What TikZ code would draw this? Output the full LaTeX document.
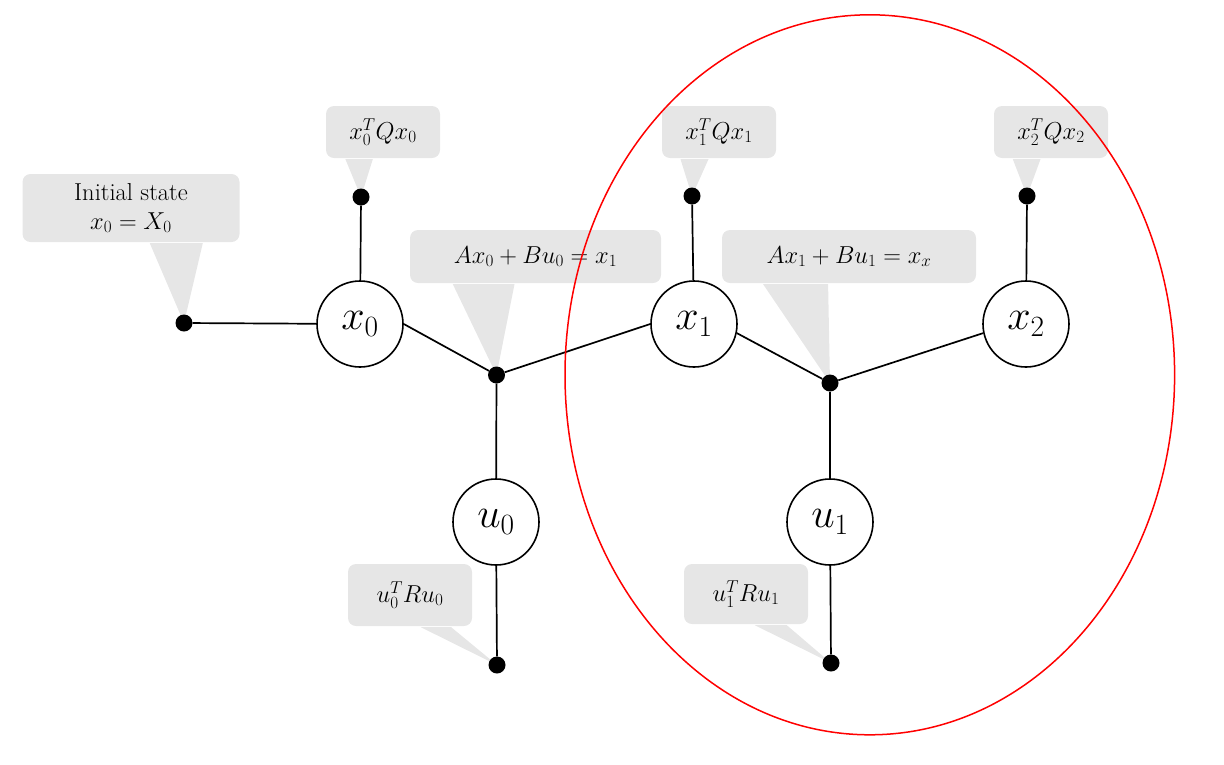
\documentclass[tikz,border=0pt]{standalone}
\usepackage{fix-cm}
\usepackage{amsmath}
\usepackage{tikz}
\usetikzlibrary{positioning,backgrounds,calc}
\definecolor{bubblegray}{RGB}{230,230,230}
\begin{document}
\begin{tikzpicture}[x=1pt, y=-1pt,
  state_style/.style={circle,draw=black,fill=white,line width=1.6pt,minimum size=86pt,inner sep=0pt,font=\fontsize{42}{50}\selectfont},
  dot_style/.style={circle,fill=black,minimum size=17pt,inner sep=0pt},
  bubble_style/.style={rectangle,rounded corners=8pt,fill=bubblegray,inner sep=0pt,align=center,font=\fontsize{24.5}{29}\selectfont},
  pointer_style/.style={fill=bubblegray},
  edge_style/.style={draw=black,line width=1.7pt},
  ring_style/.style={draw=red,line width=1.5pt}]
  \useasboundingbox (0,0) rectangle (1224,764);

  \node (x0) [state_style] at (360,324) {$x_0$};
  \node (x1) [state_style] at (694,324) {$x_1$};
  \node (x2) [state_style] at (1026,324) {$x_2$};
  \node (u0) [state_style] at (496,522) {$u_0$};
  \node (u1) [state_style] at (830,522) {$u_1$};
  %
  \node (d_init) [dot_style] at (184,323) {};
  \node (d_q0) [dot_style] at (361,197) {};
  \node (d_q1) [dot_style] at (692,196) {};
  \node (d_q2) [dot_style] at (1027,196) {};
  \node (j0) [dot_style] at (496.5,375) {};
  \node (j1) [dot_style] at (830,383) {};
  \node (d_r0) [dot_style] at (497,665) {};
  \node (d_r1) [dot_style] at (831,663) {};
  %
  \draw [edge_style] (d_init) -- (x0);
  \draw [edge_style] (x0) -- (d_q0);
  \draw [edge_style] (x0.east) -- (j0);
  \draw [edge_style] (j0) -- (x1.west);
  \draw [edge_style] (j0) -- (u0);
  \draw [edge_style] (u0) -- (d_r0);
  \draw [edge_style] (x1) -- (d_q1);
  \draw [edge_style] (x1.-12) -- (j1);
  \draw [edge_style] (j1) -- (x2.192);
  \draw [edge_style] (j1) -- (u1);
  \draw [edge_style] (u1) -- (d_r1);
  \draw [edge_style] (x2) -- (d_q2);

  \begin{scope}[on background layer]
    \node (b_init) [bubble_style, minimum width=217pt, minimum height=68pt] at (131,208) {Initial state\\$x_0 = X_0$};
    \node (b_q0) [bubble_style, minimum width=114pt, minimum height=52pt] at (383,132) {$x_0^TQx_0$};
    \node (b_f0) [bubble_style, minimum width=251pt, minimum height=53pt] at (535.5,256.5) {$Ax_0 + Bu_0 = x_1$};
    \node (b_q1) [bubble_style, minimum width=114pt, minimum height=52pt] at (719,132) {$x_1^TQx_1$};
    \node (b_f1) [bubble_style, minimum width=254pt, minimum height=53pt] at (849,256.5) {$Ax_1 + Bu_1 = x_x$};
    \node (b_q2) [bubble_style, minimum width=114pt, minimum height=52pt] at (1051,132) {$x_2^TQx_2$};
    \node (b_r0) [bubble_style, minimum width=124pt, minimum height=62pt] at (410,595) {$u_0^TRu_0$};
    \node (b_r1) [bubble_style, minimum width=124pt, minimum height=60pt] at (746,594) {$u_1^TRu_1$};
    %
    \fill [pointer_style] ($(b_init.south west)+(127.5,1)$) -- (d_init.center) -- ($(b_init.south west)+(180.5,1)$) -- cycle;
    \fill [pointer_style] ($(b_q0.south west)+(19.6,1)$) -- (d_q0.center) -- ($(b_q0.south west)+(47,1)$) -- cycle;
    \fill [pointer_style] ($(b_f0.south west)+(43,1)$) -- (j0.center) -- ($(b_f0.south west)+(104.7,1)$) -- cycle;
    \fill [pointer_style] ($(b_q1.south west)+(18.7,1)$) -- (d_q1.center) -- ($(b_q1.south west)+(46.7,1)$) -- cycle;
    \fill [pointer_style] ($(b_f1.south west)+(41.3,1)$) -- (j1.center) -- ($(b_f1.south west)+(106.3,1)$) -- cycle;
    \fill [pointer_style] ($(b_q2.south west)+(19,1)$) -- (d_q2.center) -- ($(b_q2.south west)+(46.7,1)$) -- cycle;
    \fill [pointer_style] ($(b_r0.south west)+(73,1)$) -- (d_r0.center) -- ($(b_r0.south west)+(103.4,1)$) -- cycle;
    \fill [pointer_style] ($(b_r1.south west)+(71,1)$) -- (d_r1.center) -- ($(b_r1.south west)+(103,1)$) -- cycle;
  \end{scope}

  \draw [ring_style] (869.8,374.8) ellipse (304.8pt and 360pt);
\end{tikzpicture}
\end{document}
